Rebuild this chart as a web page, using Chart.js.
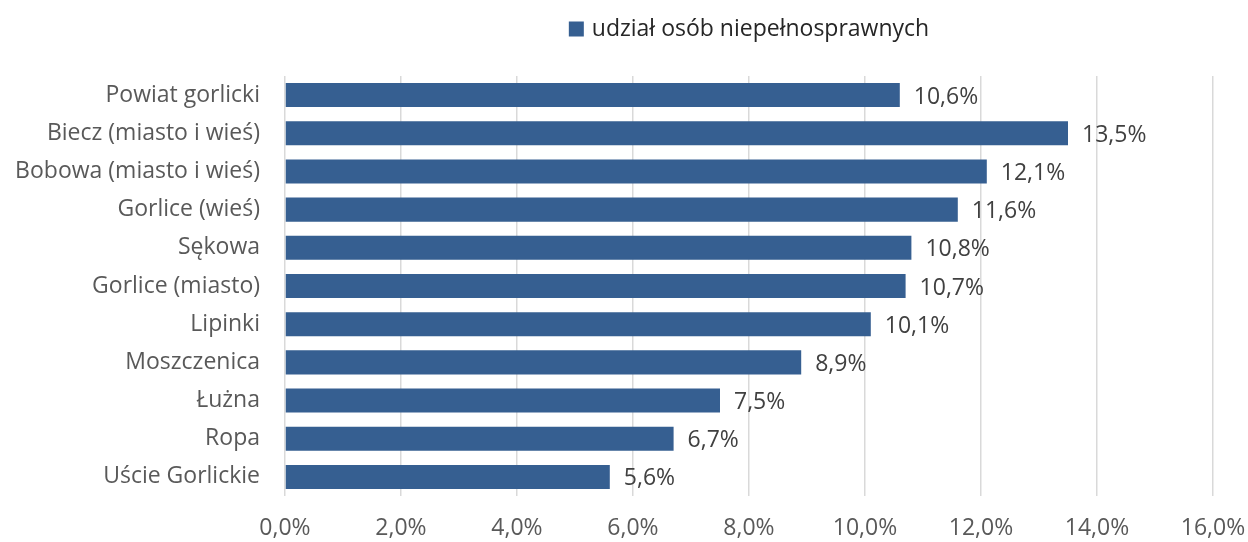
<!DOCTYPE html>
<html>
<head>
<meta charset="utf-8">
<script src="https://cdn.jsdelivr.net/npm/chart.js@4"></script>
<style>
  html, body { margin: 0; padding: 0; background: #fff; }
  #wrap { width: 1248px; height: 542px; }
</style>
</head>
<body>
<div id="wrap"><canvas id="chart" width="1248" height="542"></canvas></div>
<script>
// data
const categories = [
    'Powiat gorlicki',
    'Biecz (miasto i wieś)',
    'Bobowa (miasto i wieś)',
    'Gorlice (wieś)',
    'Sękowa',
    'Gorlice (miasto)',
    'Lipinki',
    'Moszczenica',
    'Łużna',
    'Ropa',
    'Uście Gorlickie'
];
const shareValues = [10.6, 13.5, 12.1, 11.6, 10.8, 10.7, 10.1, 8.9, 7.5, 6.7, 5.6];
const seriesLabel = 'udział osób niepełnosprawnych';
const xTicks = [0, 2, 4, 6, 8, 10, 12, 14, 16];

const FONT = 'Open Sans';
const SIZE = 23;
const TEXT = '#595959';
const BAR = '#365F91';

const pct = v => v.toFixed(1).replace('.', ',') + '%';

// value labels + legend drawn on canvas
const labelPlugin = {
    id: 'labels',
    afterDatasetsDraw(chart) {
        const ctx = chart.ctx;
        const meta = chart.getDatasetMeta(0);
        ctx.save();
        ctx.font = `${SIZE}px "${FONT}"`;
        ctx.fillStyle = '#404040';
        ctx.textBaseline = 'middle';
        ctx.textAlign = 'left';
        meta.data.forEach((bar, i) => {
            ctx.fillText(pct(shareValues[i]), bar.x + 14, bar.y + 2);
        });

        // legend centred on the plot area
        const area = chart.chartArea;
        const tw = ctx.measureText(seriesLabel).width;
        const box = 15, gap = 8;
        const total = box + gap + tw;
        const x0 = (area.left + area.right) / 2 - total / 2;
        const y = 29;
        ctx.fillStyle = BAR;
        ctx.fillRect(x0, y - box / 2, box, box);
        ctx.fillStyle = '#262626';
        ctx.fillText(seriesLabel, x0 + box + gap, y);
        ctx.restore();
    }
};

new Chart(document.getElementById('chart'), {
    type: 'bar',
    data: {
        labels: categories,
        datasets: [{
            label: seriesLabel,
            data: shareValues,
            backgroundColor: BAR,
            barPercentage: 0.63,
            categoryPercentage: 1
        }]
    },
    options: {
        indexAxis: 'y',
        responsive: false,
        animation: false,
        layout: { padding: { top: 76, right: 35, left: 0, bottom: 0 } },
        plugins: {
            legend: { display: false },
            tooltip: { enabled: false }
        },
        scales: {
            x: {
                min: 0,
                max: 16,
                afterBuildTicks: scale => { scale.ticks = xTicks.map(v => ({ value: v })); },
                afterFit: scale => {
                    scale.height = 46;
                    scale.paddingLeft = 0;
                    scale.paddingRight = 0;
                },
                border: { display: false },
                grid: { color: '#d9d9d9', lineWidth: 1.5, drawTicks: false },
                ticks: {
                    padding: 19,
                    color: TEXT,
                    font: { family: FONT, size: SIZE },
                    callback: v => pct(v)
                }
            },
            y: {
                afterFit: scale => {
                    scale.width = 285;
                    scale.paddingTop = 0;
                    scale.paddingBottom = 0;
                },
                border: { display: false },
                grid: { display: false, drawTicks: false },
                ticks: {
                    padding: 25,
                    color: TEXT,
                    font: { family: FONT, size: SIZE }
                }
            }
        }
    },
    plugins: [labelPlugin]
});
</script>
</body>
</html>
